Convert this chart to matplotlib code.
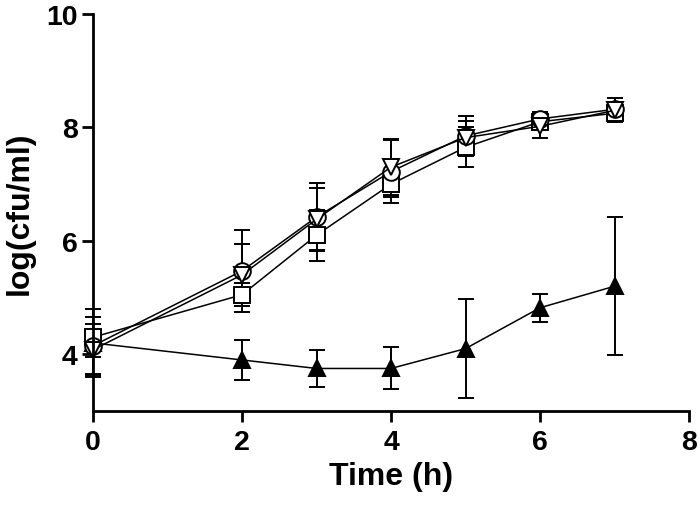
import matplotlib
matplotlib.use('Agg')
import matplotlib.pyplot as plt
import numpy as np

plt.rcParams['font.family'] = ['Liberation Sans', 'DejaVu Sans']

time_h = [0, 2, 3, 4, 5, 6, 7]

circle_mean = [4.15, 5.47, 6.42, 7.22, 7.85, 8.15, 8.32]
circle_sd = [0.50, 0.72, 0.60, 0.55, 0.35, 0.12, 0.20]

invtri_mean = [4.08, 5.40, 6.38, 7.30, 7.82, 8.02, 8.30]
invtri_sd = [0.45, 0.55, 0.55, 0.50, 0.30, 0.20, 0.15]

square_mean = [4.30, 5.05, 6.10, 7.00, 7.65, 8.10, 8.25]
square_sd = [0.35, 0.20, 0.45, 0.22, 0.35, 0.15, 0.15]

filltri_mean = [4.20, 3.90, 3.75, 3.75, 4.10, 4.82, 5.20]
filltri_sd = [0.60, 0.35, 0.33, 0.37, 0.87, 0.25, 1.22]

fig = plt.figure(figsize=(7, 5.1), dpi=100)
ax = fig.add_axes([93 / 700, 1 - 412 / 510, 596 / 700, 397 / 510])

common = dict(color='black', lw=1.1, elinewidth=1.4, capsize=6, capthick=1.4,
              markersize=12, markeredgewidth=1.4, markeredgecolor='black')

series = [
    (filltri_mean, filltri_sd, '^', 'black'),
    (square_mean, square_sd, 's', 'white'),
    (circle_mean, circle_sd, 'o', 'white'),
    (invtri_mean, invtri_sd, 'v', 'white'),
]
for mean, sd, mk, fc in series:
    cont = ax.errorbar(time_h, mean, yerr=sd, marker=mk, markerfacecolor=fc, **common)
    for art in cont.get_children():
        art.set_clip_on(False)

ax.set_xlim(0, 8)
ax.set_ylim(3, 10)
ax.set_xticks([0, 2, 4, 6, 8])
ax.set_yticks([4, 6, 8, 10])
for s in ['top', 'right']:
    ax.spines[s].set_visible(False)
for s in ['left', 'bottom']:
    ax.spines[s].set_linewidth(2)
ax.tick_params(width=2, length=8, labelsize=20.5)
ax.tick_params(axis='y', pad=3)
ax.tick_params(axis='x', pad=5)
for lbl in ax.get_xticklabels() + ax.get_yticklabels():
    lbl.set_fontweight('bold')
ax.set_xlabel('Time (h)', fontsize=23, fontweight='bold', labelpad=4)
ax.set_ylabel('log(cfu/ml)', fontsize=23, fontweight='bold', labelpad=8)

fig.savefig('out.png', dpi=100)
